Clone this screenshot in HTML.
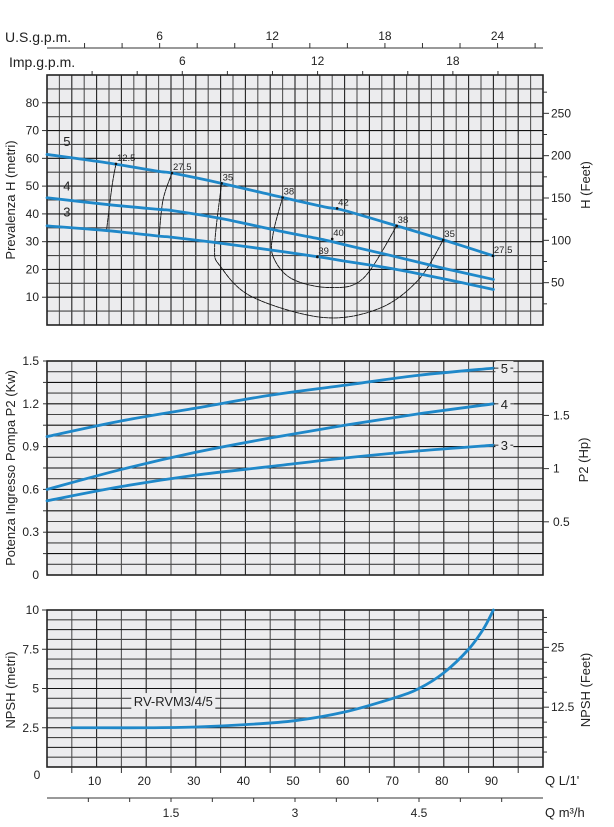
<!DOCTYPE html>
<html><head><meta charset="utf-8">
<style>
html,body{margin:0;padding:0;background:#fff;}
svg{display:block;font-family:"Liberation Sans Narrow","Liberation Sans",sans-serif;}
.t{font-size:12px;fill:#222;}
.ts{font-size:9.5px;fill:#222;}
.ti{font-size:13px;fill:#222;font-family:"Liberation Sans",sans-serif;}
</style></head>
<body>
<svg id="chart" width="614" height="827" viewBox="0 0 614 827"></svg>
<script>
// ---- data ----
const flowTicksLmin = [10,20,30,40,50,60,70,80,90];
const usGpmLabels = [6,12,18,24];
const impGpmLabels = [6,12,18];
const m3hLabels = [1.5,3,4.5];
const headTicks = [10,20,30,40,50,60,70,80];
const headFeetLabels = [50,100,150,200,250];
const powerTicks = [0,0.3,0.6,0.9,1.2,1.5];
const hpLabels = [0.5,1,1.5];
const npshTicks = [2.5,5,7.5,10];
const npshFeetLabels = [12.5,25];

const headQ = [0,12,22.6,25.2,35.2,47.5,56,60,70.5,80,90];
const head5 = [61.4,58.4,55.3,54.7,51.0,45.9,42.5,41.2,35.7,30.6,24.9];
const head4 = [45.8,43.4,41.6,41.2,38.3,33.6,30.6,28.9,24.5,20.4,16.4];
const head3 = [35.7,34.0,32.0,31.6,29.4,26.4,24.2,23.0,20.0,16.6,12.8];

const effCurve125Q = [13.9,13.1,12.0];
const effCurve125H = [58.0,49.9,34.0];
const effCurve275Q = [25.2,23.4,22.6];
const effCurve275H = [54.7,45.1,32.0];
const effCurve35Q = [35.2,33.8,35.0,41.4,55.7,66.9,74.8,79.9];
const effCurve35H = [51.0,28.2,21.0,10.1,2.7,5.9,16.1,30.6];
const effCurve38Q = [47.5,45.6,45.6,49.3,56.9,63.7,70.5];
const effCurve38H = [45.9,33.0,24.6,16.7,13.5,16.7,35.7];
const effLabels = ["12.5","27.5","35","38","42","38","35","27.5","40","39"];
const effLabelQ = [13.9,25.2,35.2,47.5,58.5,70.5,79.9,89.9,57.5,54.5];
const effLabelH = [58.0,54.7,51.0,45.9,42.0,35.7,30.6,24.9,31.0,24.5];

const powerQ = [0,15,30,45,60,75,90];
const power5 = [0.97,1.08,1.17,1.26,1.33,1.40,1.45];
const power4 = [0.60,0.74,0.86,0.96,1.05,1.13,1.20];
const power3 = [0.52,0.62,0.70,0.76,0.82,0.87,0.91];

const npshQ = [5,10,20,30,40,50,60,70,75,80,85,88,90];
const npshVal = [2.5,2.5,2.5,2.55,2.7,2.95,3.5,4.4,5.0,6.0,7.5,8.8,10];

// ---- geometry ----
const L=47,R=543;
const X = q => L + (R-L)*q/100;
const c1={top:75,bot:325,max:90};
const c2={top:361,bot:575,max:1.5};
const c3={top:610,bot:767,max:10};
const Y1 = h => c1.bot-(c1.bot-c1.top)*h/c1.max;
const Y2 = p => c2.bot-(c2.bot-c2.top)*p/c2.max;
const Y3 = n => c3.bot-(c3.bot-c3.top)*n/c3.max;

const svg=document.getElementById('chart');
const NS='http://www.w3.org/2000/svg';
function mk(tag,attrs,parent){const e=document.createElementNS(NS,tag);for(const k in attrs)e.setAttribute(k,attrs[k]);(parent||svg).appendChild(e);return e;}
function txt(s,x,y,cls,anchor,parent){const e=mk('text',{x:x,y:y,class:cls,'text-anchor':anchor||'middle'},parent);e.textContent=s;return e;}
function line(x1,y1,x2,y2,stroke,w,parent){return mk('line',{x1:x1,y1:y1,x2:x2,y2:y2,stroke:stroke,'stroke-width':w},parent);}
function smoothPath(pts){let d='M'+pts[0][0]+','+pts[0][1];for(let i=0;i<pts.length-1;i++){const p0=pts[i-1]||pts[i],p1=pts[i],p2=pts[i+1],p3=pts[i+2]||p2;const c1x=p1[0]+(p2[0]-p0[0])/6,c1y=p1[1]+(p2[1]-p0[1])/6,c2x=p2[0]-(p3[0]-p1[0])/6,c2y=p2[1]-(p3[1]-p1[1])/6;d+=' C'+c1x+','+c1y+' '+c2x+','+c2y+' '+p2[0]+','+p2[1];}return d;}

function panel(name,top,bot,vStep,hCount){
  const g=mk('g',{});
  
  
  mk('rect',{x:L,y:top,width:R-L,height:bot-top,fill:'#ececee'},g);
  for(let q=vStep,i=1;q<100;q+=vStep,i++){line(X(q),top,X(q),bot,i%2?'#555':'#222',1.1,g);}
  for(let i=1;i<hCount;i++){const y=top+(bot-top)*i/hCount;line(L,y,R,y,i%2?'#444':'#111',1.1,g);}
  mk('rect',{x:L,y:top,width:R-L,height:bot-top,fill:'none',stroke:'#222','stroke-width':1.6},g);
  return g;
}

// ---- top axes ----
const ta=mk('g',{});


txt('U.S.g.p.m.',5,42,'ti','start',ta).setAttribute('style','font-size:14px;font-family:"Liberation Sans Narrow","Liberation Sans",sans-serif');
txt('Imp.g.p.m.',9,67,'ti','start',ta).setAttribute('style','font-size:14px;font-family:"Liberation Sans Narrow","Liberation Sans",sans-serif');
line(L,48,R,48,'#333',1,ta);
for(let g=2;g*3.785<100;g+=2){line(X(g*3.785),43,X(g*3.785),48,'#333',1,ta);}
usGpmLabels.forEach(v=>{txt(String(v),X(v*3.785),40,'t','middle',ta);});
for(let g=2;g*4.546<100;g+=2){line(X(g*4.546),71,X(g*4.546),75,'#333',1,ta);}
impGpmLabels.forEach(v=>{txt(String(v),X(v*4.546),65,'t','middle',ta);});

// ---- chart 1: head ----
panel('head-chart-grid',c1.top,c1.bot,2.5,18);
const a1=mk('g',{});


headTicks.forEach(h=>{line(L-5,Y1(h),L,Y1(h),'#333',1,a1);txt(String(h),L-8,Y1(h)+4,'t','end',a1);});
for(let f=25;f*0.3048<c1.max;f+=25){const y=Y1(f*0.3048);line(R,y,R+(f%50?4:6),y,'#333',1,a1);}
headFeetLabels.forEach(f=>{txt(String(f),R+8,Y1(f*0.3048)+4,'t','start',a1);});
const yt1=txt('Prevalenza H (metri)',0,0,'ti','middle',a1);yt1.setAttribute('transform','translate(15,200) rotate(-90)');
const yt1r=txt('H (Feet)',0,0,'ti','middle',a1);yt1r.setAttribute('transform','translate(590,185) rotate(-90)');

function series(qs,vs,Yf,name,color,w){
  const pts=qs.map((q,i)=>[X(q),Yf(vs[i])]);
  const p=mk('path',{d:smoothPath(pts),fill:'none',stroke:color,'stroke-width':w,'stroke-linecap':'round'});
  
  
  return p;
}
series(effCurve125Q,effCurve125H,Y1,'efficiency-curve-12-5','#111',0.9).setAttribute('stroke-dasharray','4 1');
series(effCurve275Q,effCurve275H,Y1,'efficiency-curve-27-5','#111',0.9).setAttribute('stroke-dasharray','4 1');
series(effCurve35Q,effCurve35H,Y1,'efficiency-curve-35','#111',0.9).setAttribute('stroke-dasharray','4 1');
series(effCurve38Q,effCurve38H,Y1,'efficiency-curve-38','#111',0.9).setAttribute('stroke-dasharray','4 1');
series(headQ,head5,Y1,'head-curve-5','#1f88c9',2.8);
series(headQ,head4,Y1,'head-curve-4','#1f88c9',2.8);
series(headQ,head3,Y1,'head-curve-3','#1f88c9',2.8);
effLabels.forEach((s,i)=>{
  const x=X(effLabelQ[i]),y=Y1(effLabelH[i]);
  const d=mk('circle',{cx:x,cy:y,r:1.3,fill:'#111'});
  
  
  const t=txt(s,x+1,y-3,'ts','start');
  
  
});
[['5',64.5],['4',48.5],['3',39]].forEach(([s,h])=>{const t=txt(s,X(4),Y1(h),'ti','middle');});

// ---- chart 2: power ----
panel('power-chart-grid',c2.top,c2.bot,5,20);
const a2=mk('g',{});


for(let p=0.15;p<1.5;p+=0.15){line(L-4,Y2(p),L,Y2(p),'#333',1,a2);}
powerTicks.forEach(p=>{txt(String(p),L-8,Y2(p)+4,'t','end',a2);});
hpLabels.forEach(h=>{const y=Y2(h*0.7457);line(R,y,R+6,y,'#333',1,a2);txt(String(h),R+10,y+4,'t','start',a2);});
const yt2=txt('Potenza Ingresso Pompa P2 (Kw)',0,0,'ti','middle',a2);yt2.setAttribute('transform','translate(15,468) rotate(-90)');
const yt2r=txt('P2 (Hp)',0,0,'ti','middle',a2);yt2r.setAttribute('transform','translate(588,460) rotate(-90)');
series(powerQ,power5,Y2,'power-curve-5','#1f88c9',2.8);
series(powerQ,power4,Y2,'power-curve-4','#1f88c9',2.8);
series(powerQ,power3,Y2,'power-curve-3','#1f88c9',2.8);
[['5',power5],['4',power4],['3',power3]].forEach(([s,arr])=>{
  const y=Y2(arr[arr.length-1]);
  mk('rect',{x:X(90)+2,y:y-7,width:18,height:14,fill:'#ececee'});
  line(X(90),y,X(90)+5,y,'#333',1);
  line(X(90)+17,y,X(94),y,'#333',1);
  const t=txt(s,X(90)+11,y+5,'ti','middle');
  
  
});

// ---- chart 3: NPSH ----
panel('npsh-chart-grid',c3.top,c3.bot,5,16);
const a3=mk('g',{});


npshTicks.forEach(n=>{line(L-5,Y3(n),L,Y3(n),'#333',1,a3);txt(String(n),L-8,Y3(n)+4,'t','end',a3);});
for(let i=1;i*3.125*0.3048<c3.max;i++){const y=Y3(i*3.125*0.3048);line(R,y,R+(i%4?4:6),y,'#333',1,a3);}
npshFeetLabels.forEach(f=>{txt(String(f),R+8,Y3(f*0.3048)+4,'t','start',a3);});
const yt3=txt('NPSH (metri)',0,0,'ti','middle',a3);yt3.setAttribute('transform','translate(15,690) rotate(-90)');
const yt3r=txt('NPSH (Feet)',0,0,'ti','middle',a3);yt3r.setAttribute('transform','translate(590,690) rotate(-90)');
series(npshQ,npshVal,Y3,'npsh-curve','#1f88c9',2.8);
const lb=mk('rect',{x:X(17),y:Y3(4.2)-8,width:84,height:16,fill:'#ececee'});


const ml=txt('RV-RVM3/4/5',X(17)+42,Y3(4.2)+5,'ti','middle');



// ---- bottom axes ----
const ba=mk('g',{});


txt('0',37,779,'t','middle',ba);
for(let q=5;q<100;q+=10){line(X(q),c3.bot,X(q),c3.bot+6,'#333',1,ba);}
flowTicksLmin.forEach(q=>{txt(String(q),X(q)-2,785,'t','middle',ba);});
txt("Q  L/1'",545,785,'ti','start',ba);
line(L,798,R,798,'#333',1,ba);
for(let m=0.5;m*16.667<100;m+=0.5){line(X(m*16.667),798,X(m*16.667),802,'#333',1,ba);}
m3hLabels.forEach(m=>{txt(String(m),X(m*16.667),817,'t','middle',ba);});
txt('Q  m³/h',545,817,'ti','start',ba);
</script>
</body></html>
